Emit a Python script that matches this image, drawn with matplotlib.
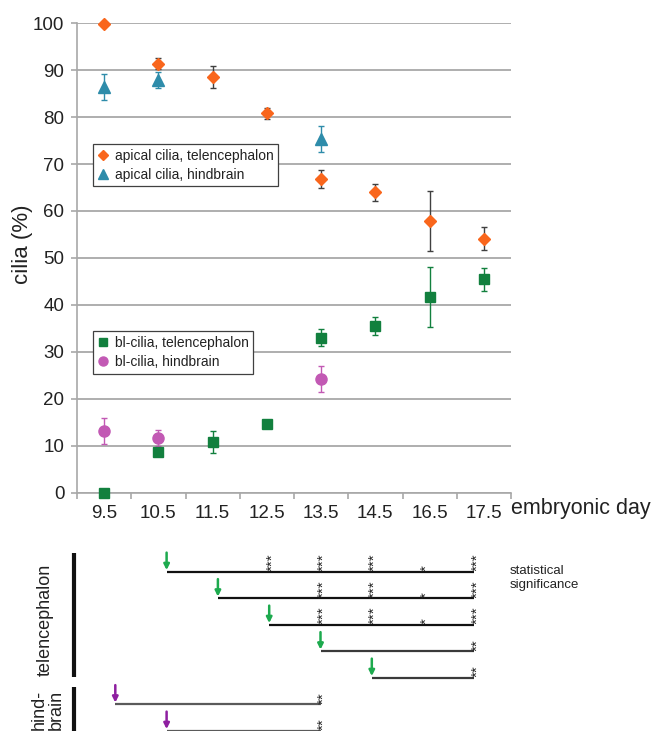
import numpy as np
import matplotlib
matplotlib.use('Agg')
from matplotlib import pyplot as plt
from matplotlib.lines import Line2D

plt.rcParams['font.family'] = ['Liberation Sans', 'DejaVu Sans']

days = ['9.5', '10.5', '11.5', '12.5', '13.5', '14.5', '16.5', '17.5']

# apical cilia, telencephalon
ap_tel = [99.8, 91.4, 88.6, 80.8, 66.9, 64.0, 57.8, 54.1]
ap_tel_err = [0.0, 1.1, 2.4, 1.2, 1.9, 1.85, 6.4, 2.4]
# apical cilia, hindbrain (only measured at 9.5, 10.5, 13.5)
ap_hind_days = [0, 1, 4]
ap_hind = [86.4, 88.0, 75.4]
ap_hind_err = [2.7, 1.7, 2.8]
# bl-cilia, telencephalon
bl_tel = [0.0, 8.7, 10.8, 14.6, 33.0, 35.5, 41.7, 45.4]
bl_tel_err = [0.0, 0.6, 2.4, 0.8, 1.8, 1.9, 6.4, 2.5]
# bl-cilia, hindbrain
bl_hind_days = [0, 1, 4]
bl_hind = [13.1, 11.7, 24.2]
bl_hind_err = [2.7, 1.7, 2.8]

# significance tests: reference day index, row group, (compared day index, stars)
sig_ref = [1, 2, 3, 4, 5, 0, 1]
sig_group = ['tel', 'tel', 'tel', 'tel', 'tel', 'hind', 'hind']
sig_marks = [
    [(3, '***'), (4, '***'), (5, '***'), (6, '*'), (7, '***')],
    [(4, '***'), (5, '***'), (6, '*'), (7, '***')],
    [(4, '***'), (5, '***'), (6, '*'), (7, '***')],
    [(7, '**')],
    [(7, '**')],
    [(4, '**')],
    [(4, '**')],
]

c_orange = '#F9661C'
c_teal = '#2E8CAA'
c_green = '#12803E'
c_mag = '#C259B4'
c_grid = '#A8A8A8'
c_txt = '#222222'

W, H = 659, 731
fig = plt.figure(figsize=(W / 100, H / 100), dpi=100)

# ---- main chart ----
x0, x1, ytop, ybot = 77, 511, 23.3, 492.5
ax = fig.add_axes([x0 / W, 1 - ybot / H, (x1 - x0) / W, (ybot - ytop) / H])
x = np.arange(len(days))

ax.errorbar(x, ap_tel, yerr=ap_tel_err, fmt='D', color=c_orange, ms=6,
            ecolor='#404040', elinewidth=1, capsize=2.5, capthick=1,
            clip_on=False, zorder=3)
ax.errorbar(ap_hind_days, ap_hind, yerr=ap_hind_err, fmt='^', color=c_teal, ms=8.5,
            ecolor=c_teal, elinewidth=1, capsize=2.5, capthick=1, zorder=3)
ax.errorbar(x, bl_tel, yerr=bl_tel_err, fmt='s', color=c_green, ms=7.2,
            ecolor=c_green, elinewidth=1, capsize=2.5, capthick=1,
            clip_on=False, zorder=3)
ax.errorbar(bl_hind_days, bl_hind, yerr=bl_hind_err, fmt='o', color=c_mag, ms=8,
            ecolor=c_mag, elinewidth=1, capsize=2.5, capthick=1, zorder=3)

ax.set_xlim(-0.5, len(days) - 0.5)
ax.set_ylim(0, 100)
ax.set_yticks(np.arange(0, 101, 10))
ax.yaxis.grid(True, color=c_grid, lw=1.3)
ax.set_axisbelow(True)
for s in ['top', 'right']:
    ax.spines[s].set_visible(False)
for s in ['left', 'bottom']:
    ax.spines[s].set_color(c_grid)
    ax.spines[s].set_linewidth(1.2)
ax.set_xticks(x)
ax.set_xticklabels(days)
ax.set_xticks(np.arange(-0.5, len(days), 1), minor=True)
ax.tick_params(axis='x', which='major', length=0, pad=9, labelsize=13.5, labelcolor=c_txt)
ax.tick_params(axis='x', which='minor', length=4, color=c_grid, width=1.2)
ax.tick_params(axis='y', length=4, color=c_grid, width=1.2, pad=5, labelsize=13.5,
               labelcolor=c_txt)
ax.set_ylabel('cilia (%)', fontsize=16, color=c_txt)
ax.yaxis.set_label_coords(-0.101, 0.53)
ax.text(1.0, -0.035, 'embryonic day', transform=ax.transAxes, fontsize=15.5,
        color=c_txt, ha='left', va='center')

h1 = [Line2D([], [], ls='', marker='D', color=c_orange, ms=5),
      Line2D([], [], ls='', marker='^', color=c_teal, ms=7)]
leg1 = ax.legend(h1, ['apical cilia, telencephalon', 'apical cilia, hindbrain'],
                 loc='upper left', bbox_to_anchor=(0.037, 0.743), borderaxespad=0,
                 fontsize=10, fancybox=False, edgecolor='#404040', framealpha=1,
                 handlelength=0.8, handletextpad=0.4, borderpad=0.35, labelspacing=0.35)
leg1.get_frame().set_linewidth(0.9)
ax.add_artist(leg1)
h2 = [Line2D([], [], ls='', marker='s', color=c_green, ms=6),
      Line2D([], [], ls='', marker='o', color=c_mag, ms=6.5)]
leg2 = ax.legend(h2, ['bl-cilia, telencephalon', 'bl-cilia, hindbrain'],
                 loc='upper left', bbox_to_anchor=(0.037, 0.344), borderaxespad=0,
                 fontsize=10, fancybox=False, edgecolor='#404040', framealpha=1,
                 handlelength=0.8, handletextpad=0.4, borderpad=0.35, labelspacing=0.35)
leg2.get_frame().set_linewidth(0.9)
for t in leg1.get_texts() + leg2.get_texts():
    t.set_color(c_txt)

# ---- significance panel ----
px0, pdx = 115.3, 51.3     # pixel of day index 0, pixels per day
py0, pdy = 571.7, 26.5     # pixel of row 0, pixels per row
top_px = 540
ax2 = fig.add_axes([0, 0, 1, (H - top_px) / H])
ax2.set_xlim(-px0 / pdx, (W - px0) / pdx)
ax2.set_ylim((H - py0) / pdy, (top_px - py0) / pdy)
ax2.axis('off')

line_cols = ['#111111', '#111111', '#111111', '#3a3a3a', '#3a3a3a', '#5a5a5a', '#5a5a5a']
for r, (ref, grp, marks) in enumerate(zip(sig_ref, sig_group, sig_marks)):
    end = max(m[0] for m in marks)
    ax2.plot([ref, end], [r, r], color=line_cols[r], lw=1.6, solid_capstyle='butt',
             clip_on=False)
    acol = '#1DAA4E' if grp == 'tel' else '#8E1FA0'
    ax2.annotate('', xy=(ref, r - 0.06), xytext=(ref, r - 0.72),
                 arrowprops=dict(arrowstyle='-|>', color=acol, lw=1.8,
                                 mutation_scale=8, shrinkA=0, shrinkB=0))
    for d, st in marks:
        ax2.text(d + 0.06, r - 0.02, st, rotation=90, fontsize=11, color=c_txt,
                 ha='center', va='bottom')

xbar = (74 - px0) / pdx
ax2.plot([xbar, xbar], [-0.7, 3.98], color='#111111', lw=3, solid_capstyle='butt')
ax2.plot([xbar, xbar], [4.35, 6.5], color='#111111', lw=3, solid_capstyle='butt',
         clip_on=False)
ax2.text((45 - px0) / pdx, 1.82, 'telencephalon', rotation=90, fontsize=13,
         color=c_txt, ha='center', va='center')
ax2.text((48 - px0) / pdx, (690 - py0) / pdy, 'hind-\nbrain', rotation=90, fontsize=13,
         color=c_txt, ha='center', va='top', multialignment='right',
         linespacing=1.0)
ax2.text((510 - px0) / pdx, -0.25, 'statistical\nsignificance', fontsize=9.5,
         color=c_txt, ha='left', va='top', linespacing=1.2)

fig.savefig('out.png', dpi=100)
